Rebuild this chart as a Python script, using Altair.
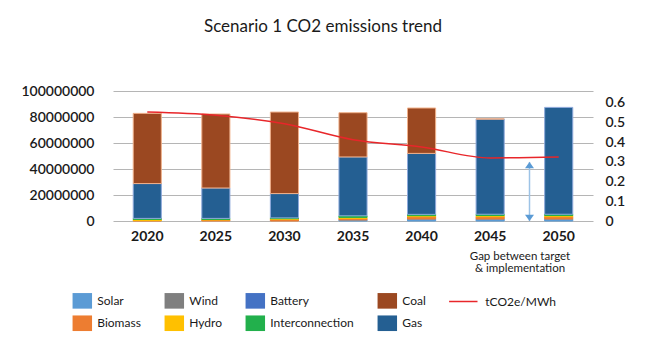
import altair as alt
import pandas as pd

years = ["2020", "2025", "2030", "2035", "2040", "2045", "2050"]
# emissions (tCO2e) by source
solar = [0, 0, 0, 0.8e6, 1.5e6, 1.5e6, 1.5e6]
biomass = [0.3e6, 0.8e6, 1.2e6, 1.2e6, 1.8e6, 1.8e6, 1.8e6]
wind = [0, 0, 0, 0, 0, 0, 0]
hydro = [0.9e6, 0.4e6, 0.6e6, 0.8e6, 0.8e6, 0.9e6, 0.9e6]
battery = [0, 0, 0, 0, 0, 0, 0]
interconnection = [0.8e6, 0.8e6, 0.6e6, 1.2e6, 1.0e6, 1.0e6, 1.0e6]
gas = [26.8e6, 23.4e6, 18.7e6, 45.3e6, 46.9e6, 73.2e6, 82.2e6]
coal = [54.0e6, 56.9e6, 62.7e6, 34.0e6, 34.9e6, 0.2e6, 0.0]
intensity = [0.553, 0.537, 0.494, 0.413, 0.376, 0.32, 0.325]

sources = ["Solar", "Biomass", "Wind", "Hydro", "Battery", "Interconnection", "Gas", "Coal"]
series = [solar, biomass, wind, hydro, battery, interconnection, gas, coal]
legend_order = ["Solar", "Wind", "Battery", "Coal", "Biomass", "Hydro", "Interconnection", "Gas"]
fill_colors = ["#5b9bd5", "#7f7f7f", "#4472c4", "#9b4821", "#ed7d31", "#ffc000", "#22b04c", "#245f92"]
edge_colors = ["#5b9bd5", "#7f7f7f", "#4472c4", "#f0b08a", "#ed7d31", "#ffc000", "#22b04c", "#8ea9db"]

right_ticks = [0, 0.1, 0.2, 0.3, 0.4, 0.5, 0.6]
left_ticks = [0, 20000000, 40000000, 60000000, 80000000, 100000000]

gap_label = "Gap between target\n& implementation"
gap_top = 0.30

rows = []
for k, (src, vals) in enumerate(zip(sources, series)):
    for yr, v in zip(years, vals):
        if v > 0:
            rows.append({"year": yr, "source": src, "emissions": v, "stack": k})
bars_df = pd.DataFrame(rows)
line_df = pd.DataFrame({"year": years, "ef": intensity, "series": "tCO2e/MWh"})
arrow_df = pd.DataFrame({"top": [gap_top], "bottom": [0.0]})
heads_df = pd.DataFrame({"v": [gap_top, 0.0], "shape": ["up", "down"]})
text_df = pd.DataFrame({"label": [gap_label]})

FONT = "Lato"
TXT = "#1a1a1a"

x_enc = alt.X("year:N", sort=years, title=None,
              scale=alt.Scale(paddingInner=0.59, paddingOuter=0.295),
              axis=alt.Axis(labelAngle=0, labelFont=FONT, labelFontSize=14, labelFontWeight="bold",
                            labelColor=TXT, ticks=False, domain=False, labelPadding=8))

bars = alt.Chart(bars_df).mark_bar(strokeWidth=1).encode(
    x=x_enc,
    y=alt.Y("sum(emissions):Q", title=None,
            scale=alt.Scale(domain=[0, 100000000], nice=False),
            axis=alt.Axis(values=left_ticks, format="d",
                          labelFont=FONT, labelFontSize=14, labelFontWeight=600, labelColor=TXT,
                          ticks=False, domain=False, grid=True, gridColor="#b5b5b5", gridWidth=1,
                          labelPadding=19, labelOverlap=False)),
    color=alt.Color("source:N", scale=alt.Scale(domain=legend_order, range=fill_colors),
                    legend=alt.Legend(title=None, orient="none", legendX=-40.7, legendY=199.75,
                                      columns=4, direction="horizontal", columnPadding=23,
                                      rowPadding=4.5, symbolType="M-1,-0.8H1V0.8H-1Z",
                                      symbolSize=380, symbolStrokeWidth=0, labelFont=FONT,
                                      labelFontSize=12, labelColor=TXT, labelOffset=5,
                                      padding=0)),
    stroke=alt.Stroke("source:N", scale=alt.Scale(domain=legend_order, range=edge_colors), legend=None),
    order=alt.Order("stack:Q", sort="ascending"),
)

y_right_scale = alt.Scale(domain=[0, 0.66], nice=False)
right_axis = alt.Axis(orient="right", values=right_ticks, format="~g", tickCount=7,
                      labelFont=FONT, labelFontSize=14, labelFontWeight=600, labelColor=TXT,
                      ticks=False, domain=False, grid=False, labelPadding=12,
                      labelOverlap=False)

line = alt.Chart(line_df).mark_line(strokeWidth=1.5, interpolate="monotone").encode(
    x=alt.X("year:N", sort=years),
    y=alt.Y("ef:Q", title=None, scale=y_right_scale, axis=right_axis),
    stroke=alt.Stroke("series:N", scale=alt.Scale(domain=["tCO2e/MWh"], range=["#e8262a"]),
                      legend=alt.Legend(title=None, orient="none", legendX=335.3, legendY=195.5,
                                        symbolType="stroke", symbolSize=807, symbolStrokeWidth=1.5,
                                        labelFont=FONT, labelFontSize=12, labelColor=TXT,
                                        labelOffset=7, padding=0)),
)

ARROW_X = 416.5
shaft = alt.Chart(arrow_df).mark_rule(color="#9dc3e6", strokeWidth=1.5).encode(
    x=alt.value(ARROW_X),
    y=alt.Y("top:Q", title=None, scale=y_right_scale, axis=right_axis),
    y2="bottom:Q",
)
heads = alt.Chart(heads_df).mark_point(filled=True, opacity=1, color="#5b9bd5", size=81).encode(
    x=alt.value(ARROW_X),
    y=alt.Y("v:Q", title=None, scale=y_right_scale, axis=right_axis),
    shape=alt.Shape("shape:N", scale=alt.Scale(domain=["up", "down"],
                                                range=["M0,0L1,1.4L-1,1.4Z", "M0,0L1,-1.4L-1,-1.4Z"]),
                    legend=None),
)

right = alt.layer(line, shaft, heads)

gap_text = alt.Chart(text_df).mark_text(font=FONT, fontSize=11.5, color=TXT, align="center",
                                        baseline="middle", lineBreak="\n", lineHeight=12).encode(
    x=alt.value(407),
    y=alt.value(166),
    text="label:N",
)

chart = alt.layer(bars, right, gap_text).resolve_scale(
    y="independent", color="independent", stroke="independent", shape="independent"
).properties(
    width=480, height=130,
    autosize=alt.AutoSizeParams(type="none"),
    padding={"left": 105, "top": 83, "right": 40, "bottom": 120},
    title=alt.TitleParams("Scenario 1 CO2 emissions trend", font=FONT, fontSize=17, fontWeight="normal",
                          color=TXT, anchor="middle", dx=-30, offset=48),
).configure_view(stroke=None)

chart.save("out.html", embed_options={"renderer": "svg", "actions": False})
